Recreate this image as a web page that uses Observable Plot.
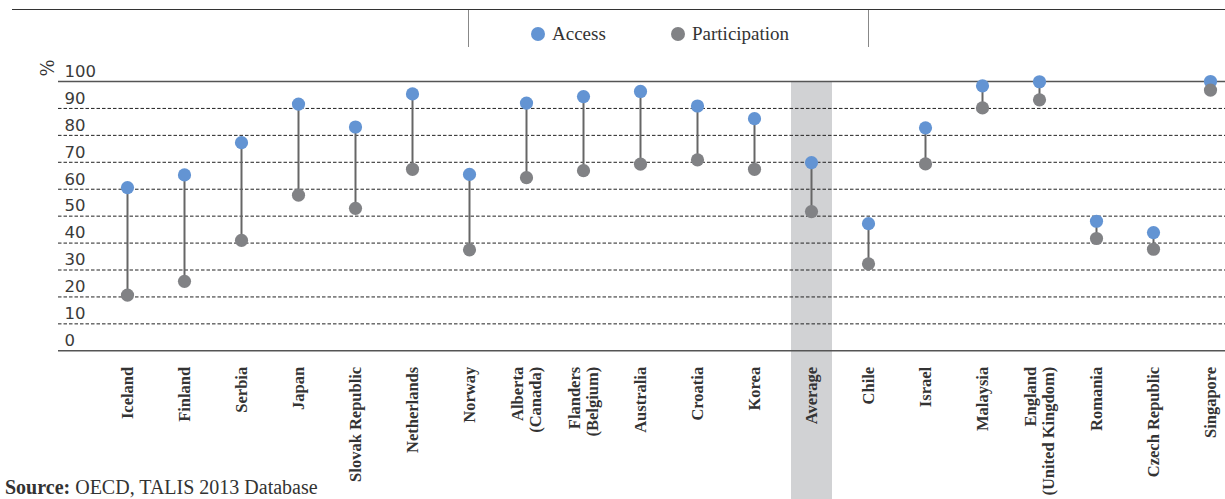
<!DOCTYPE html>
<html>
<head>
<meta charset="utf-8">
<script src="https://cdn.jsdelivr.net/npm/d3@7"></script>
<script src="https://cdn.jsdelivr.net/npm/@observablehq/plot@0.6"></script>
<style>
  html, body { margin: 0; padding: 0; background: #fff; width: 1225px; height: 499px; overflow: hidden; }
  #wrap { position: relative; width: 1225px; height: 499px; }
  #header { position: absolute; left: 0; top: 0; width: 1225px; height: 55px; }
  .topline { position: absolute; left: 12px; top: 9px; width: 1213px; height: 0; border-top: 1.6px solid #333; }
  .vline { position: absolute; top: 10px; width: 0; height: 37px; border-left: 1.5px solid #888; }
  .leg { position: absolute; top: 23px; font-family: "Liberation Serif", "DejaVu Serif", serif; font-size: 19px; color: #333; display: flex; align-items: center; }
  .sw { display: inline-block; width: 14px; height: 14px; border-radius: 50%; margin-right: 7px; }
  #chart { position: absolute; left: 0; top: 55px; }
  #source { position: absolute; left: 5px; top: 476px; font-family: "Liberation Serif", "DejaVu Serif", serif; font-size: 20px; color: #333; line-height: 22px; white-space: nowrap; }
</style>
</head>
<body>
<div id="wrap">
  <div id="header">
    <div class="topline"></div>
    <div class="vline" style="left:468px"></div>
    <div class="vline" style="left:868px"></div>
    <div class="leg" style="left:531px"><span class="sw" style="background:#6394d3"></span>Access</div>
    <div class="leg" style="left:671px"><span class="sw" style="background:#818285"></span>Participation</div>
  </div>
  <div id="chart"></div>
  <div id="source"><b>Source:</b> OECD, TALIS 2013 Database</div>
</div>
<script>
const categories = ["Iceland","Finland","Serbia","Japan","Slovak Republic","Netherlands","Norway","Alberta (Canada)","Flanders (Belgium)","Australia","Croatia","Korea","Average","Chile","Israel","Malaysia","England (United Kingdom)","Romania","Czech Republic","Singapore"];
const labels = ["Iceland","Finland","Serbia","Japan","Slovak Republic","Netherlands","Norway","Alberta\n(Canada)","Flanders\n(Belgium)","Australia","Croatia","Korea","Average","Chile","Israel","Malaysia","England\n(United Kingdom)","Romania","Czech Republic","Singapore"];
const access = [60.6,65.3,77.3,91.6,83.1,95.4,65.5,92.0,94.4,96.3,90.9,86.2,69.9,47.2,82.8,98.4,99.9,48.1,43.9,100.0];
const participation = [20.7,25.8,41.0,57.8,52.9,67.4,37.5,64.3,66.9,69.3,70.9,67.4,51.7,32.3,69.4,90.2,93.2,41.7,37.7,96.8];
const gridTicks = [10,20,30,40,50,60,70,80,90];
const tickLabels = [0,10,20,30,40,50,60,70,80,90,100];
const highlight = ["Average"];

const rows = categories.map((c, i) => ({country: c, label: labels[i], access: access[i], participation: participation[i]}));

const chart = Plot.plot({
  width: 1225,
  height: 444,
  marginTop: 26,
  marginBottom: 0,
  marginLeft: 58,
  marginRight: 0,
  x: {type: "point", domain: categories, range: [126, 1211.7], padding: 0, axis: null},
  y: {domain: [0, 100], range: [295.3, 26], axis: null},
  style: {background: "transparent"},
  marks: [
    Plot.ruleX(highlight, {x: d => d, stroke: "#d1d2d4", strokeWidth: 41}),
    Plot.ruleY(gridTicks, {y: d => d, stroke: "#222", strokeWidth: 1, strokeDasharray: "3.5,2"}),
    Plot.ruleY([0, 100], {y: d => d, stroke: "#555", strokeWidth: 1.6}),
    Plot.text(tickLabels, {y: d => d, text: d => String(d), frameAnchor: "left", dx: 6, dy: -10, textAnchor: "start", fontFamily: "DejaVu Sans", fontSize: 16.5, fill: "#3a3a3a"}),
    Plot.text(["%"], {frameAnchor: "top-left", dx: -17, dy: -5, rotate: -90, fontFamily: "DejaVu Serif", fontSize: 18, fill: "#333"}),
    Plot.ruleX(rows, {x: "country", y1: "participation", y2: "access", stroke: "#666", strokeWidth: 2}),
    Plot.dot(rows, {x: "country", y: "access", r: 6.6, fill: "#6394d3"}),
    Plot.dot(rows, {x: "country", y: "participation", r: 6.6, fill: "#818285"}),
    Plot.text(rows, {x: "country", y: 0, text: "label", rotate: -90, textAnchor: "end", dy: 16, lineHeight: 1.1, fontFamily: "Liberation Serif", fontWeight: "bold", fontSize: 16.5, fill: "#333"})
  ]
});
document.getElementById("chart").appendChild(chart);
</script>
</body>
</html>
